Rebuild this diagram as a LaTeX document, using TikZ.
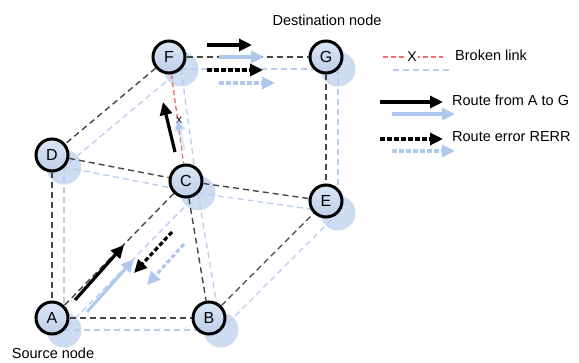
\documentclass[tikz,border=0pt]{standalone}
\usepackage{fontspec}
\setmainfont{Liberation Sans}
\usetikzlibrary{arrows.meta,calc}
\definecolor{nodefill}{RGB}{190,207,234}
\definecolor{nodefilltop}{RGB}{220,230,245}
\definecolor{shadowfill}{RGB}{198,214,240}
\definecolor{shadowline}{RGB}{185,205,238}
\definecolor{edgegray}{RGB}{70,70,70}
\definecolor{brokenred}{RGB}{240,110,110}
\definecolor{shadowarrow}{RGB}{175,200,238}
\tikzset{
  vtx/.style={circle, minimum size=32pt, inner sep=0pt, line width=3pt, draw=black,
    top color=nodefilltop, bottom color=nodefill, font=\fontsize{16}{17}\selectfont},
  shadowc/.style={circle, minimum size=35pt, inner sep=0pt, fill=shadowfill, fill opacity=0.85},
  edge/.style={draw=edgegray, line width=1.4pt, dash pattern=on 6pt off 4pt},
  sedge/.style={draw=shadowline, line width=1.3pt, dash pattern=on 6pt off 4pt},
  redge/.style={draw=brokenred, line width=1.3pt, dash pattern=on 5pt off 3pt},
  solidarrow/.style={draw=black, line width=3.2pt, -{Triangle[length=13pt,width=12pt]}},
  errarrow/.style={draw=black, line width=3.2pt, dash pattern=on 4.5pt off 2.5pt, -{Triangle[length=13pt,width=12pt]}},
  ssolidarrow/.style={draw=shadowarrow, line width=3.2pt, -{Triangle[length=13pt,width=12pt]}},
  serrarrow/.style={draw=shadowarrow, line width=3.2pt, dash pattern=on 4.5pt off 2.5pt, -{Triangle[length=13pt,width=12pt]}},
  lbl/.style={font=\fontsize{14.5}{16}\selectfont, inner sep=0pt}
}
\begin{document}
\begin{tikzpicture}[x=1pt,y=-1pt]
\useasboundingbox (0,0) rectangle (579,363);
% node positions
\coordinate (pF) at (169,57);
\coordinate (pG) at (326,57);
\coordinate (pD) at (52,155);
\coordinate (pC) at (186,181);
\coordinate (pE) at (326,201);
\coordinate (pA) at (52,318);
\coordinate (pB) at (209,318);
% shadow nodes
\foreach \n in {F,G,D,C,E,A,B}{
  \node[shadowc] (s\n) at ($(p\n)+(12,12)$) {};
}
% shadow edges
\foreach \a/\b in {F/G,F/D,F/C,D/C,D/A,C/E,C/B,C/A,A/B,B/E,G/E}{
  \draw[sedge] (s\a.center) -- (s\b.center);
}
% main nodes
\node[vtx] (F) at (pF) {F};
\node[vtx] (G) at (pG) {G};
\node[vtx] (D) at (pD) {D};
\node[vtx] (C) at (pC) {C};
\node[vtx] (E) at (pE) {E};
\node[vtx] (A) at (pA) {A};
\node[vtx] (B) at (pB) {B};
% edges
\foreach \a/\b in {F/G,F/D,D/C,D/A,C/E,C/B,C/A,A/B,B/E,G/E}{
  \draw[edge] (\a) -- (\b);
}
\draw[redge] (F) -- (C);
\node[font=\fontsize{12}{12}\selectfont, inner sep=0pt] (xmark) at (179,120) {x};
% route arrows
\coordinate (r1s) at (75,300); \coordinate (r1e) at (124,245);
\coordinate (r1ss) at (87,312); \coordinate (r1se) at (134,259);
\draw[ssolidarrow] (r1ss) -- (r1se);
\draw[solidarrow] (r1s) -- (r1e);
\coordinate (e1s) at (172,232); \coordinate (e1e) at (134,273);
\coordinate (e1ss) at (184,244); \coordinate (e1se) at (147,285);
\draw[serrarrow] (e1ss) -- (e1se);
\draw[errarrow] (e1s) -- (e1e);
\coordinate (r2s) at (175,152); \coordinate (r2e) at (163,102);
\coordinate (r2ss) at (184,150); \coordinate (r2se) at (177,118);
\draw[ssolidarrow, draw opacity=0.4] (r2ss) -- (r2se);
\draw[solidarrow] (r2s) -- (r2e);
\coordinate (r3s) at (207,45); \coordinate (r3e) at (252,45);
\coordinate (r3ss) at (219,57); \coordinate (r3se) at (264,57);
\draw[ssolidarrow] (r3ss) -- (r3se);
\draw[solidarrow] (r3s) -- (r3e);
\coordinate (e3s) at (207,70); \coordinate (e3e) at (263,70);
\coordinate (e3ss) at (219,83); \coordinate (e3se) at (275,83);
\draw[serrarrow] (e3ss) -- (e3se);
\draw[errarrow] (e3s) -- (e3e);
% labels
\node[lbl] (dest) at (327,20) {Destination node};
\node[lbl] (src) at (53,353) {Source node};
% legend
\coordinate (l1a) at (383,57); \coordinate (l1b) at (443,57);
\coordinate (l1sa) at (393,70); \coordinate (l1sb) at (453,70);
\draw[sedge] (l1sa) -- (l1sb);
\draw[redge] (l1a) -- (l1b);
\node[font=\fontsize{14}{14}\selectfont, inner sep=1pt, fill=white] (lx) at (412,57) {X};
\node[lbl, anchor=west] (t1) at (455,55) {Broken link};
\coordinate (l2a) at (380,102); \coordinate (l2b) at (443,102);
\coordinate (l2sa) at (392,114); \coordinate (l2sb) at (455,114);
\draw[ssolidarrow] (l2sa) -- (l2sb);
\draw[solidarrow] (l2a) -- (l2b);
\node[lbl, anchor=west] (t2) at (452,100) {Route from A to G};
\coordinate (l3a) at (380,139); \coordinate (l3b) at (443,139);
\coordinate (l3sa) at (392,151); \coordinate (l3sb) at (455,151);
\draw[serrarrow] (l3sa) -- (l3sb);
\draw[errarrow] (l3a) -- (l3b);
\node[lbl, anchor=west] (t3) at (452,137) {Route error RERR};
\end{tikzpicture}
\end{document}
